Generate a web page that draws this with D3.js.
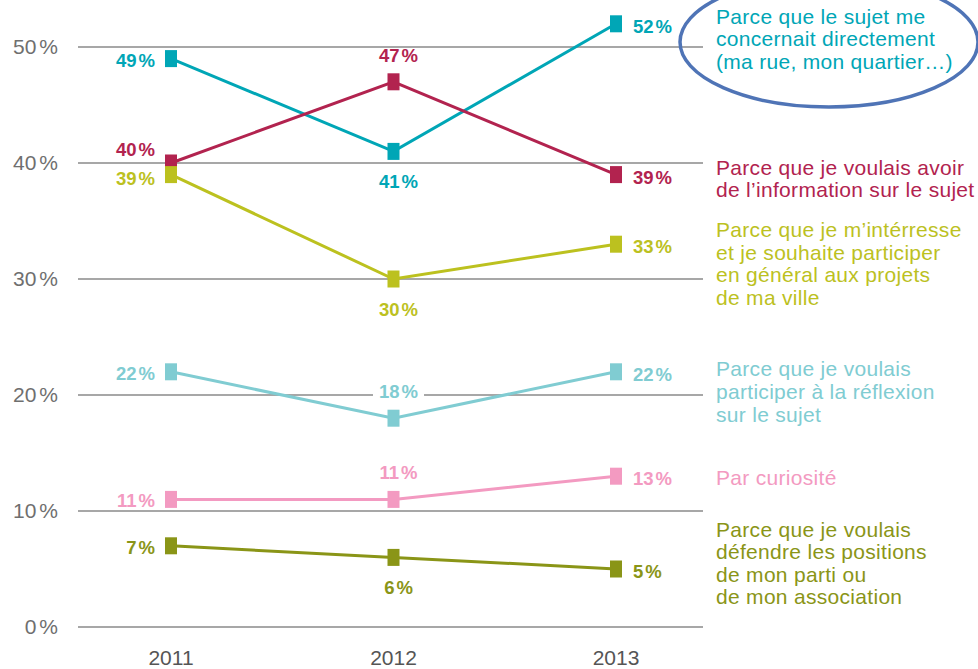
<!DOCTYPE html>
<html>
<head>
<meta charset="utf-8">
<script src="https://cdn.jsdelivr.net/npm/d3@7"></script>
<style>
  body { margin: 0; background: #fff; }
  svg { display: block; font-family: "Liberation Sans", Arial, sans-serif; }
</style>
</head>
<body>
<div id="chart"></div>
<script>
// Data
const years = ['2011', '2012', '2013'];
const yTicks = [0, 10, 20, 30, 40, 50];

const concerne = [49, 41, 52];
const information = [40, 47, 39];
const interesse = [39, 30, 33];
const reflexion = [22, 18, 22];
const curiosite = [11, 11, 13];
const defendre = [7, 6, 5];

const legendConcerne = ['Parce que le sujet me', 'concernait directement', '(ma rue, mon quartier…)'];
const legendInformation = ['Parce que je voulais avoir', 'de l’information sur le sujet'];
const legendInteresse = ['Parce que je m’intérresse', 'et je souhaite participer', 'en général aux projets', 'de ma ville'];
const legendReflexion = ['Parce que je voulais', 'participer à la réflexion', 'sur le sujet'];
const legendCuriosite = ['Par curiosité'];
const legendDefendre = ['Parce que je voulais', 'défendre les positions', 'de mon parti ou', 'de mon association'];

const CHART_WIDTH = 978;
const CHART_HEIGHT = 669;

// series styling + label placement
const series = [
    { values: concerne, legend: legendConcerne, color: '#00a6b6', legendAt: 52, labels: ['left', 'below', 'right'], dy: [0, 0, 0] },
    { values: information, legend: legendInformation, color: '#b2234f', legendAt: 39, labels: ['left', 'above', 'right'], dy: [-15, 0, 0] },
    { values: interesse, legend: legendInteresse, color: '#bcc11f', legendAt: 33.6, labels: ['left', 'below', 'right'], dy: [2, 0, 0] },
    { values: reflexion, legend: legendReflexion, color: '#80ccd2', legendAt: 21.6, labels: ['left', 'above', 'right'], dy: [0, 0, 0] },
    { values: curiosite, legend: legendCuriosite, color: '#f39ac1', legendAt: 12.2, labels: ['left', 'above', 'right'], dy: [0, 0, 0] },
    { values: defendre, legend: legendDefendre, color: '#8a9517', legendAt: 7.8, labels: ['left', 'below', 'right'], dy: [0, 0, 0] }
];

const svg = d3.select('#chart')
    .append('svg')
    .attr('width', CHART_WIDTH)
    .attr('height', CHART_HEIGHT);

// Scales
const xScale = d3.scalePoint()
    .domain(years)
    .range([171, 616]);

const yScale = d3.scaleLinear()
    .domain([0, 50])
    .range([627, 47]);

// Gridlines
svg.append('g')
    .selectAll('line')
    .data(yTicks)
    .enter()
    .append('line')
    .attr('x1', 78)
    .attr('x2', 703)
    .attr('y1', d => yScale(d))
    .attr('y2', d => yScale(d))
    .attr('stroke', '#8a8a8a')
    .attr('stroke-width', 1.5);

// Y labels
const yLab = svg.append('g')
    .selectAll('text')
    .data(yTicks)
    .enter()
    .append('text')
    .attr('x', 58)
    .attr('y', d => yScale(d) + 7)
    .attr('text-anchor', 'end')
    .attr('font-size', 21)
    .attr('fill', '#6f6f6f')
    .text(d => d);
yLab.append('tspan').attr('dx', 3).text('%');

// X labels
svg.append('g')
    .selectAll('text')
    .data(years)
    .enter()
    .append('text')
    .attr('x', d => xScale(d))
    .attr('y', 665)
    .attr('text-anchor', 'middle')
    .attr('font-size', 21)
    .attr('fill', '#555')
    .text(d => d);

// Lines
const line = d3.line()
    .x((d, i) => xScale(years[i]))
    .y(d => yScale(d));

series.forEach(s => {
    svg.append('path')
        .datum(s.values)
        .attr('d', line)
        .attr('fill', 'none')
        .attr('stroke', s.color)
        .attr('stroke-width', 3);

    svg.append('g')
        .selectAll('rect')
        .data(s.values)
        .enter()
        .append('rect')
        .attr('x', (d, i) => xScale(years[i]) - 6)
        .attr('y', d => yScale(d) - 8.5)
        .attr('width', 12)
        .attr('height', 17)
        .attr('fill', s.color);
});

// Value labels
series.forEach(s => {
    s.values.forEach((v, i) => {
        const px = xScale(years[i]);
        const py = yScale(v);
        const pos = s.labels[i];
        let x = px, y = py, anchor = 'middle';
        if (pos === 'left') { x = px - 16; y = py + 8; anchor = 'end'; }
        if (pos === 'right') { x = px + 17; y = py + 9; anchor = 'start'; }
        if (pos === 'above') { x = px + 5; y = py - 20; }
        if (pos === 'below') { x = px + 5; y = py + 37; }
        y += s.dy[i];

        const g = svg.append('g');
        const t = g.append('text')
            .attr('x', x)
            .attr('y', y)
            .attr('text-anchor', anchor)
            .attr('font-size', 18.5)
            .attr('font-weight', 'bold')
            .attr('fill', s.color)
            .text(v);
        t.append('tspan').attr('dx', 2).text('%');

        // white knockout behind the middle labels (breaks the gridline under 18%)
        if (pos === 'above' || pos === 'below') {
            const bb = t.node().getBBox();
            g.insert('rect', 'text')
                .attr('x', bb.x - 6)
                .attr('y', bb.y + 4)
                .attr('width', bb.width + 12)
                .attr('height', bb.height - 6)
                .attr('fill', '#fff');
        }
    });
});

// Legend
series.forEach(s => {
    const top = yScale(s.legendAt);
    svg.append('g')
        .selectAll('text')
        .data(s.legend)
        .enter()
        .append('text')
        .attr('x', 716)
        .attr('y', (d, i) => top + i * 22.6)
        .attr('font-size', 21)
        .attr('letter-spacing', 0.3)
        .attr('fill', s.color)
        .text(d => d);
});

// Highlight ellipse
svg.append('ellipse')
    .attr('cx', 829)
    .attr('cy', 42)
    .attr('rx', 149)
    .attr('ry', 65)
    .attr('fill', 'none')
    .attr('stroke', '#4f74b6')
    .attr('stroke-width', 3.5);
</script>
</body>
</html>
